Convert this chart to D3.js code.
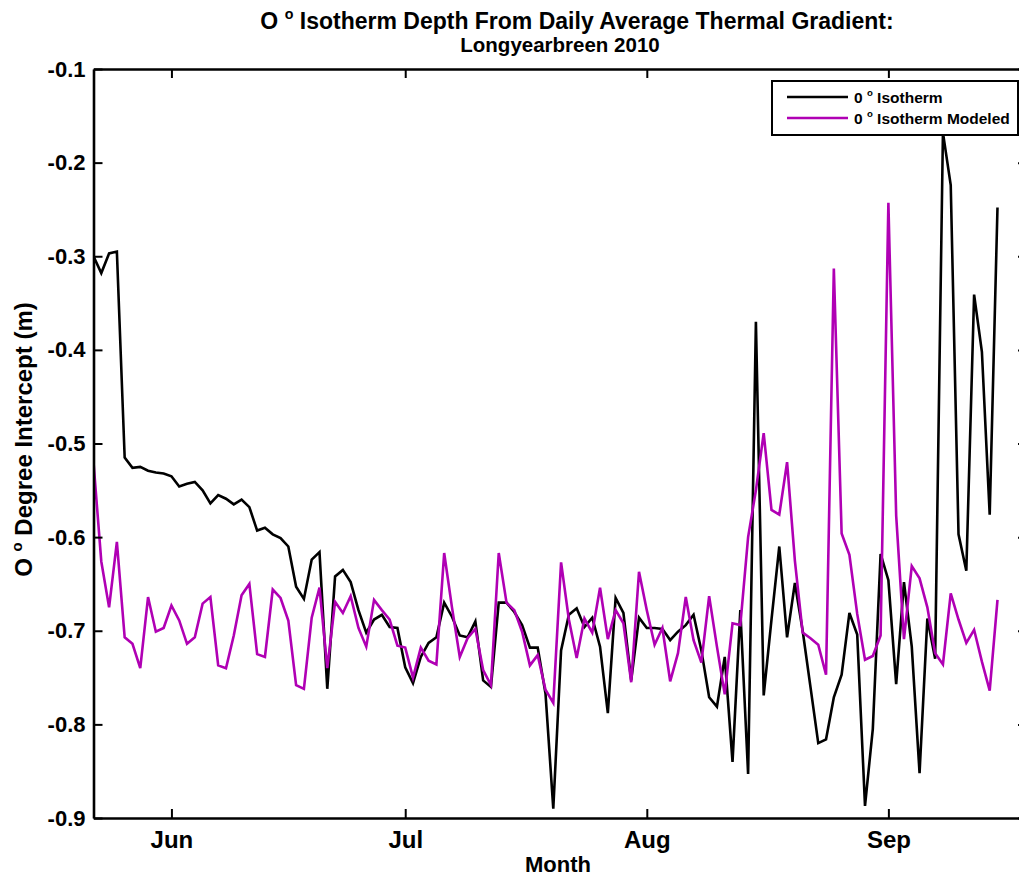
<!DOCTYPE html>
<html>
<head>
<meta charset="utf-8">
<script src="https://cdn.jsdelivr.net/npm/d3@7"></script>
<style>
  html, body { margin: 0; padding: 0; background: #fff; }
  svg { display: block; font-family: "Liberation Sans", Arial, sans-serif; font-weight: bold; }
</style>
</head>
<body>
<svg id="chart" width="1019" height="879"></svg>
<script>
// Daily 0 degree isotherm depth (m), Longyearbreen 2010, one value per day from 22 May
const startDay = [2010, 4, 22];
const observed = [
  -0.300, -0.318, -0.297, -0.295, -0.515, -0.526, -0.525, -0.529, -0.531, -0.532,
  -0.535, -0.546, -0.543, -0.541, -0.550, -0.564, -0.555, -0.559, -0.565, -0.560,
  -0.568, -0.593, -0.590, -0.597, -0.601, -0.610, -0.653, -0.666, -0.624, -0.616,
  -0.762, -0.642, -0.635, -0.648, -0.678, -0.702, -0.688, -0.683, -0.696, -0.697,
  -0.739, -0.756, -0.728, -0.713, -0.707, -0.670, -0.685, -0.705, -0.707, -0.690,
  -0.753, -0.760, -0.670, -0.670, -0.680, -0.694, -0.718, -0.718, -0.767, -0.890,
  -0.721, -0.683, -0.676, -0.696, -0.686, -0.717, -0.788, -0.665, -0.681, -0.753,
  -0.686, -0.697, -0.697, -0.698, -0.710, -0.701, -0.694, -0.683, -0.721, -0.771,
  -0.781, -0.728, -0.840, -0.678, -0.853, -0.370, -0.769, -0.688, -0.610, -0.707,
  -0.649, -0.700, -0.760, -0.820, -0.816, -0.771, -0.747, -0.681, -0.704, -0.887,
  -0.805, -0.618, -0.646, -0.757, -0.648, -0.717, -0.852, -0.687, -0.730, -0.168,
  -0.224, -0.597, -0.636, -0.341, -0.402, -0.576, -0.248
];
const modeled = [
  -0.520, -0.626, -0.675, -0.605, -0.707, -0.714, -0.740, -0.664, -0.701, -0.697,
  -0.673, -0.689, -0.714, -0.707, -0.671, -0.664, -0.737, -0.740, -0.705, -0.662,
  -0.650, -0.725, -0.728, -0.656, -0.665, -0.689, -0.758, -0.762, -0.686, -0.654,
  -0.740, -0.669, -0.681, -0.663, -0.697, -0.717, -0.667, -0.678, -0.688, -0.716,
  -0.718, -0.750, -0.718, -0.732, -0.736, -0.617, -0.675, -0.728, -0.708, -0.698,
  -0.742, -0.758, -0.617, -0.670, -0.678, -0.701, -0.737, -0.726, -0.763, -0.777,
  -0.627, -0.688, -0.729, -0.687, -0.702, -0.654, -0.709, -0.678, -0.692, -0.755,
  -0.637, -0.678, -0.715, -0.697, -0.754, -0.724, -0.664, -0.710, -0.734, -0.663,
  -0.717, -0.768, -0.692, -0.694, -0.600, -0.550, -0.489, -0.571, -0.576, -0.520,
  -0.625, -0.702, -0.708, -0.715, -0.747, -0.313, -0.596, -0.619, -0.682, -0.731,
  -0.727, -0.705, -0.243, -0.577, -0.709, -0.631, -0.644, -0.675, -0.724, -0.736,
  -0.660, -0.688, -0.713, -0.699, -0.733, -0.764, -0.667
];
const yTicks = [-0.9, -0.8, -0.7, -0.6, -0.5, -0.4, -0.3, -0.2, -0.1];
const seriesNames = ["Isotherm", "Isotherm Modeled"];
const seriesColors = ["#000000", "#b000b4"];

const svg = d3.select("#chart");
const W = 1019, H = 879;
svg.append("rect").attr("width", W).attr("height", H).attr("fill", "#fff");

const plot = { left: 93.5, top: 69, bottom: 818 };
const pxPerDay = 7.793;
const t0 = new Date(startDay[0], startDay[1], startDay[2]);
const t1 = new Date(2010, 8, 18, 19);
const spanDays = (t1 - t0) / 864e5;
plot.right = plot.left + pxPerDay * spanDays;

const x = d3.scaleTime().domain([t0, t1]).range([plot.left, plot.right]);
const y = d3.scaleLinear().domain([-0.9, -0.1]).range([plot.bottom, plot.top]);

const dates = observed.map((_, i) => d3.timeDay.offset(t0, i));
const fmt = d3.formatLocale({ decimal: ".", thousands: ",", grouping: [3], currency: ["", ""], minus: "-" }).format(".1f");

// data lines
const line = d3.line().x((d, i) => x(dates[i])).y(d => y(d));
const clipId = "plotClip";
svg.append("clipPath").attr("id", clipId).append("rect")
  .attr("x", plot.left).attr("y", plot.top)
  .attr("width", plot.right - plot.left).attr("height", plot.bottom - plot.top);

const lines = svg.append("g").attr("clip-path", `url(#${clipId})`);
[observed, modeled].forEach((s, k) => {
  lines.append("path").datum(s)
    .attr("d", line)
    .attr("fill", "none")
    .attr("stroke", seriesColors[k])
    .attr("stroke-width", 2.6)
    .attr("stroke-linejoin", "miter")
    .attr("stroke-miterlimit", 4);
});

// axes with inward ticks
const monthTicks = d3.timeMonth.range(d3.timeMonth.ceil(t0), t1);
const tickLen = 9;

const gx = svg.append("g").attr("transform", `translate(0,${plot.bottom})`)
  .call(d3.axisBottom(x).tickValues(monthTicks).tickFormat(d3.timeFormat("%b"))
    .tickSizeInner(-tickLen).tickSizeOuter(0).tickPadding(13));
gx.selectAll("text").attr("font-size", 24).attr("font-weight", "bold").attr("fill", "#000");

const gxTop = svg.append("g").attr("transform", `translate(0,${plot.top})`)
  .call(d3.axisTop(x).tickValues(monthTicks).tickFormat("")
    .tickSizeInner(-tickLen).tickSizeOuter(0));

const gy = svg.append("g").attr("transform", `translate(${plot.left},0)`)
  .call(d3.axisLeft(y).tickValues(yTicks).tickFormat(fmt)
    .tickSizeInner(-tickLen).tickSizeOuter(0).tickPadding(8));
gy.selectAll("text").attr("font-size", 22).attr("font-weight", "bold").attr("fill", "#000");

const gyRight = svg.append("g").attr("transform", `translate(${plot.right},0)`)
  .call(d3.axisRight(y).tickValues(yTicks).tickFormat("")
    .tickSizeInner(-tickLen).tickSizeOuter(0));

[gx, gxTop, gy, gyRight].forEach(g => {
  g.attr("font-family", null);
  g.select(".domain").attr("stroke", "#000").attr("stroke-width", 2.6);
  g.selectAll(".tick line").attr("stroke", "#000").attr("stroke-width", 2);
});

// helper: text with a raised small "o" degree mark
function degreeText(sel, before, after, size) {
  sel.append("tspan").text(before);
  sel.append("tspan").attr("font-size", size * 0.62).attr("dy", -size * 0.42).text("o");
  sel.append("tspan").attr("dy", size * 0.42).text(after);
}

// title
const t1Text = svg.append("text").attr("x", 577).attr("y", 29)
  .attr("text-anchor", "middle").attr("font-size", 23);
degreeText(t1Text, "O ", " Isotherm Depth From Daily Average Thermal Gradient:", 23);
svg.append("text").attr("x", 560).attr("y", 52)
  .attr("text-anchor", "middle").attr("font-size", 20.5)
  .text("Longyearbreen 2010");

// axis labels
svg.append("text").attr("x", 558).attr("y", 872)
  .attr("text-anchor", "middle").attr("font-size", 22).text("Month");
const yl = svg.append("text")
  .attr("transform", `translate(32,${(plot.top + plot.bottom) / 2 - 4}) rotate(-90)`)
  .attr("text-anchor", "middle").attr("font-size", 24);
degreeText(yl, "O ", " Degree Intercept (m)", 24);

// legend
const lg = svg.append("g");
lg.append("rect").attr("x", 772).attr("y", 81).attr("width", 246).attr("height", 54)
  .attr("fill", "#fff").attr("stroke", "#000").attr("stroke-width", 2);
seriesNames.forEach((name, k) => {
  const ly = 97 + k * 21;
  lg.append("line").attr("x1", 787).attr("x2", 848).attr("y1", ly).attr("y2", ly)
    .attr("stroke", seriesColors[k]).attr("stroke-width", 2.6);
  const tx = lg.append("text").attr("x", 854).attr("y", ly + 5.5).attr("font-size", 15.5);
  degreeText(tx, "0 ", " " + name, 15.5);
});
</script>
</body>
</html>
